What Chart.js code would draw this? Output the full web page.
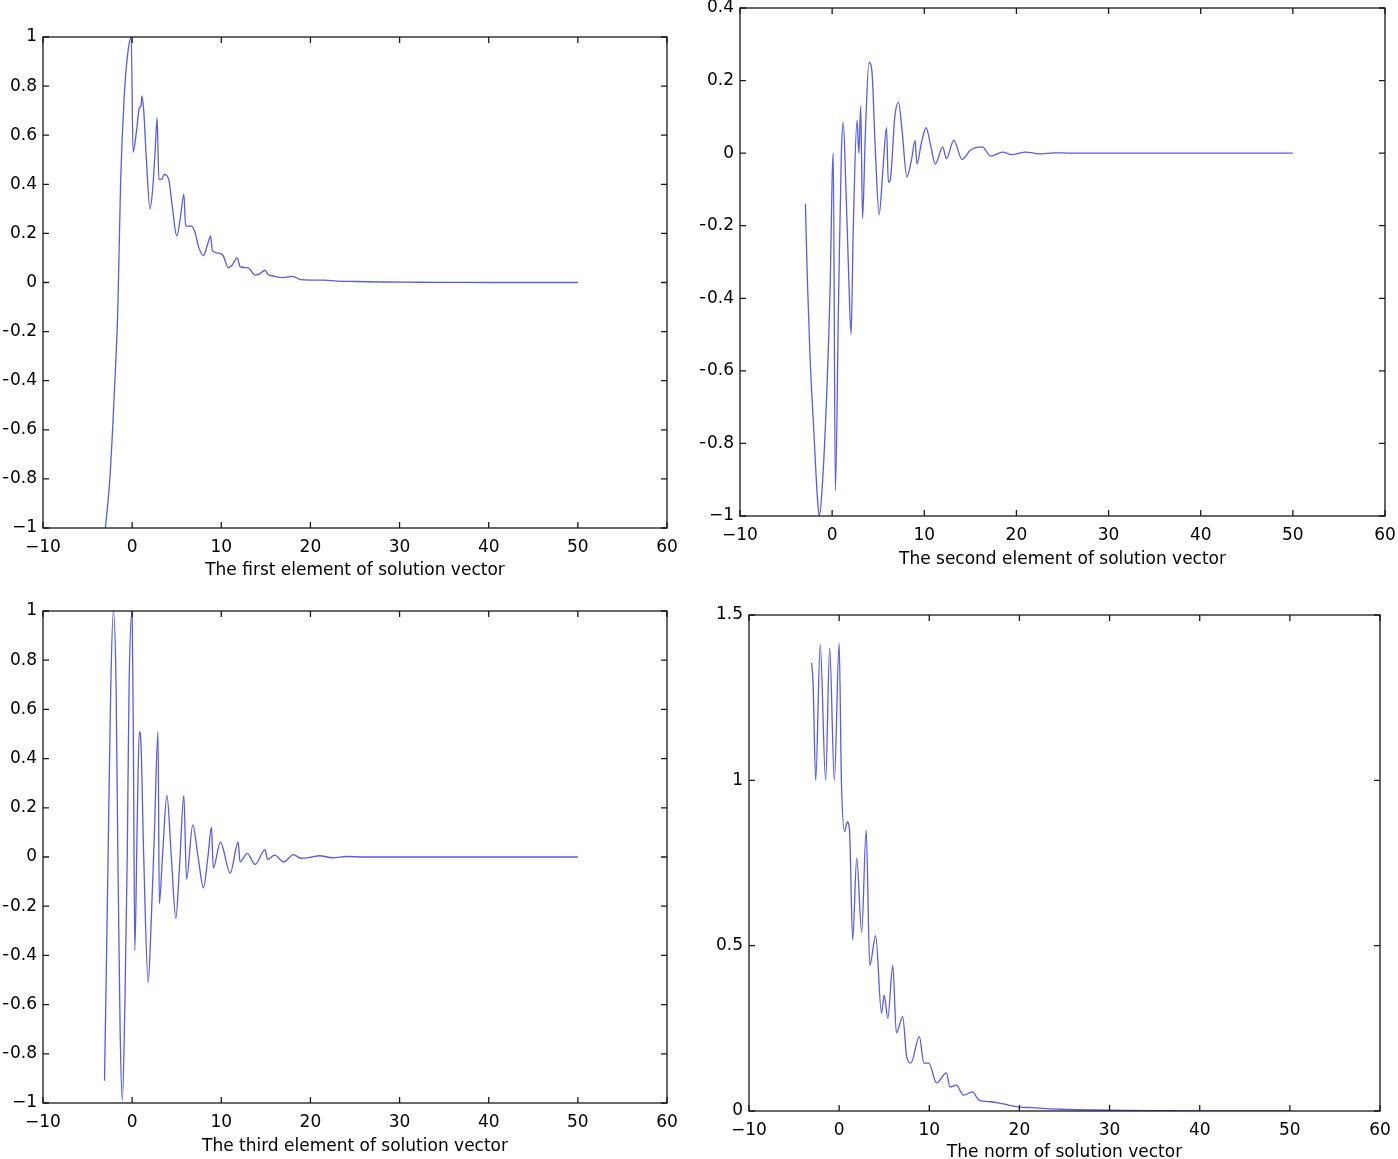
<!DOCTYPE html>
<html>
<head>
<meta charset="utf-8">
<script src="https://cdn.jsdelivr.net/npm/chart.js@4.4.1/dist/chart.umd.min.js"></script>
<style>
  html, body { margin: 0; padding: 0; background: #fff; overflow: hidden; width: 1398px; height: 1159px; }
  canvas { position: absolute; left: 0; top: -50px; }
</style>
</head>
<body>
<canvas id="c1" width="1450" height="1300"></canvas>
<canvas id="c2" width="1450" height="1300"></canvas>
<canvas id="c3" width="1450" height="1300"></canvas>
<canvas id="c4" width="1450" height="1300"></canvas>
<script>
// tick values
const xTicks = [-10, 0, 10, 20, 30, 40, 50, 60];
const yTicksA = [-1, -0.8, -0.6, -0.4, -0.2, 0, 0.2, 0.4, 0.6, 0.8, 1];
const yTicksB = [-1, -0.8, -0.6, -0.4, -0.2, 0, 0.2, 0.4];
const yTicksNorm = [0, 0.5, 1, 1.5];

// [x, y]
const firstElem = [[-3.0,-1.0],[-2.5,-0.8],[-2.0,-0.45],[-1.6,-0.1],[-1.3,0.4],[-0.9,0.75],[-0.5,0.93],[-0.1,1.0],
  [0.1,0.53],[0.5,0.62],[0.8,0.71],[1.0,0.72],[1.1,0.76],[1.3,0.70],[1.6,0.50],[2.0,0.30],[2.3,0.38],[2.6,0.55],
  [2.8,0.67],[3.0,0.42],[3.3,0.42],[3.6,0.44],[4.1,0.42],[4.5,0.31],[5.0,0.19],[5.4,0.26],[5.8,0.36],[6.0,0.23],
  [6.6,0.23],[7.0,0.21],[7.5,0.14],[8.0,0.11],[8.5,0.16],[8.8,0.19],[9.0,0.13],[9.6,0.12],[10.2,0.11],[10.8,0.06],
  [11.2,0.07],[11.8,0.10],[12.1,0.065],[13.0,0.06],[13.8,0.03],[14.3,0.035],[14.9,0.05],[15.2,0.035],[16.0,0.025],
  [16.9,0.02],[18.0,0.025],[18.9,0.012],[20.0,0.01],[21.5,0.01],[23,0.006],[25,0.004],[28,0.002],[32,0.001],
  [36,0.0005],[40,0],[45,0],[50,0]];

const secondElem = [[-2.9,-0.14],[-2.7,-0.34],[-2.4,-0.56],[-2.0,-0.76],[-1.6,-0.95],[-1.4,-1.0],[-1.1,-0.93],
  [-0.6,-0.67],[-0.2,-0.35],[0.0,-0.07],[0.12,0.0],[0.35,-0.93],[0.7,-0.4],[1.0,0.0],[1.2,0.085],[1.5,-0.1],
  [1.8,-0.34],[2.05,-0.5],[2.3,-0.2],[2.7,0.09],[2.9,0.0],[3.1,0.13],[3.3,-0.18],[3.6,0.05],[4.0,0.25],[4.3,0.23],
  [4.7,0.0],[5.1,-0.17],[5.5,-0.05],[5.9,0.07],[6.1,-0.08],[6.3,-0.075],[6.8,0.1],[7.2,0.14],[7.6,0.06],[8.1,-0.065],
  [8.6,-0.02],[9.0,0.035],[9.2,-0.03],[9.7,0.03],[10.2,0.07],[10.7,0.02],[11.2,-0.03],[12.0,0.017],[12.4,-0.015],
  [13.2,0.035],[14.1,-0.017],[15.0,0.008],[16.3,0.017],[17.2,-0.008],[18.5,0.003],[19.5,-0.004],[21,0.003],
  [22.5,-0.002],[24,0.001],[26,0],[50,0]];

const thirdElem = [[-3.1,-0.91],[-2.9,-0.47],[-2.7,0.0],[-2.4,0.69],[-2.1,1.0],[-1.8,0.69],[-1.6,0.0],[-1.35,-0.7],
  [-1.1,-0.99],[-0.8,-0.57],[-0.55,0.0],[-0.35,0.68],[0.0,1.0],[0.15,0.4],[0.3,-0.38],[0.55,0.1],[0.8,0.51],
  [1.0,0.45],[1.3,0.0],[1.8,-0.51],[2.1,-0.3],[2.5,0.1],[2.9,0.51],[3.05,-0.19],[3.4,0.0],[3.9,0.25],[4.4,0.0],
  [4.9,-0.25],[5.3,-0.05],[5.8,0.25],[6.1,-0.09],[6.8,0.13],[7.4,0.0],[8.0,-0.125],[8.5,0.0],[8.9,0.12],[9.1,-0.045],
  [9.9,0.06],[11.0,-0.065],[11.9,0.06],[12.1,-0.02],[12.9,0.015],[13.8,-0.03],[14.9,0.03],[15.2,-0.01],[16.0,0.008],
  [17.0,-0.02],[18.1,0.01],[18.9,-0.005],[20.2,0.0],[21.0,0.005],[22.5,-0.003],[24,0.002],[26,0],[50,0]];

const normVec = [[-3.05,1.355],[-2.9,1.3],[-2.6,1.0],[-2.1,1.41],[-1.5,1.0],[-1.05,1.40],[-0.53,1.0],[0.0,1.415],
  [0.25,1.0],[0.6,0.845],[0.9,0.874],[1.15,0.85],[1.5,0.517],[1.95,0.765],[2.5,0.54],[3.0,0.85],[3.4,0.44],
  [4.05,0.53],[4.7,0.296],[5.0,0.35],[5.4,0.28],[5.95,0.44],[6.35,0.236],[7.05,0.285],[7.5,0.163],[7.95,0.145],
  [8.9,0.225],[9.4,0.145],[9.95,0.145],[10.8,0.085],[11.9,0.115],[12.3,0.073],[13.0,0.078],[13.8,0.048],[14.8,0.058],
  [15.5,0.033],[16.8,0.028],[17.8,0.024],[18.8,0.018],[20,0.012],[21.5,0.01],[23,0.007],[25,0.005],[28,0.003],
  [32,0.0015],[36,0.0008],[40,0.0003],[45,0.0001],[50,0]];

const font = { family: 'DejaVu Sans', size: 17 };
const lineColor = 'rgb(90, 90, 235)';
const fmt = v => String(v).replace('-', '\u2212');

// matlab style box with inward ticks on all four sides
const boxTicks = {
  id: 'boxTicks',
  afterDraw(chart) {
    const { ctx, chartArea: a, scales: { x, y } } = chart;
    ctx.save();
    ctx.strokeStyle = '#1a1a1a';
    ctx.lineWidth = 1.3;
    ctx.strokeRect(a.left, a.top, a.right - a.left, a.bottom - a.top);
    ctx.beginPath();
    x.ticks.forEach(t => {
      const px = x.getPixelForValue(t.value);
      ctx.moveTo(px, a.bottom); ctx.lineTo(px, a.bottom - 6);
      ctx.moveTo(px, a.top); ctx.lineTo(px, a.top + 6);
    });
    y.ticks.forEach(t => {
      const py = y.getPixelForValue(t.value);
      ctx.moveTo(a.left, py); ctx.lineTo(a.left + 6, py);
      ctx.moveTo(a.right, py); ctx.lineTo(a.right - 6, py);
    });
    ctx.stroke();
    ctx.restore();
  }
};

function makeChart(id, series, yTicks, title, box) {
  const H = box.titleY - box.bottom + 10.2;
  new Chart(document.getElementById(id), {
    type: 'line',
    data: {
      datasets: [{
        data: series.map(p => ({ x: p[0], y: p[1] })),
        borderColor: lineColor,
        borderWidth: 1.3,
        pointRadius: 0,
        cubicInterpolationMode: 'monotone',
        fill: false
      }]
    },
    options: {
      responsive: false,
      animation: false,
      devicePixelRatio: 1,
      layout: {
        padding: { left: box.left - 40, top: box.top + 50, right: 1450 - box.right, bottom: 1300 - box.bottom - 50 - H }
      },
      plugins: { legend: { display: false }, tooltip: { enabled: false } },
      scales: {
        x: {
          type: 'linear', min: -10, max: 60,
          grid: { display: false, drawTicks: false },
          border: { display: false },
          afterBuildTicks: s => { s.ticks = xTicks.map(v => ({ value: v })); },
          afterFit: s => { s.height = H; },
          ticks: { font: font, color: '#000', padding: 9, maxRotation: 0, autoSkip: false, callback: fmt },
          title: { display: true, text: title, font: font, color: '#000', padding: 0 }
        },
        y: {
          type: 'linear', min: yTicks[0], max: yTicks[yTicks.length - 1],
          grid: { display: false, drawTicks: false },
          border: { display: false },
          afterBuildTicks: s => { s.ticks = yTicks.map(v => ({ value: v })); },
          afterFit: s => { s.width = 40; },
          ticks: { font: font, color: '#000', padding: 6, autoSkip: false, callback: fmt }
        }
      }
    },
    plugins: [boxTicks]
  });
}

makeChart('c1', firstElem, yTicksA, 'The first element of solution vector',
  { left: 43, top: 37, right: 667, bottom: 528, titleY: 571 });
makeChart('c2', secondElem, yTicksB, 'The second element of solution vector',
  { left: 740, top: 8, right: 1385, bottom: 516, titleY: 560 });
makeChart('c3', thirdElem, yTicksA, 'The third element of solution vector',
  { left: 43, top: 611, right: 667, bottom: 1103, titleY: 1147 });
makeChart('c4', normVec, yTicksNorm, 'The norm of solution vector',
  { left: 749, top: 615, right: 1380, bottom: 1111, titleY: 1153 });
</script>
</body>
</html>
